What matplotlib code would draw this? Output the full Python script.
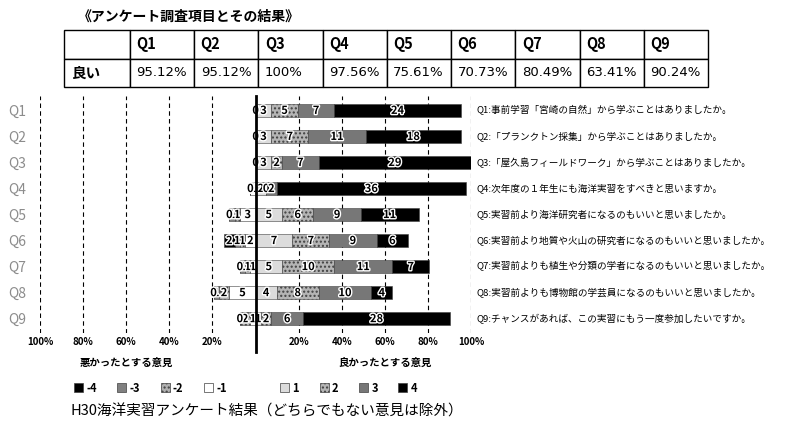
"""
H30 marine practicum survey results - diverging stacked bars
"""

import matplotlib
matplotlib.use("Agg")
import matplotlib.pyplot as plt
import matplotlib.patheffects as pe
from matplotlib.patches import Patch

plt.rcParams['font.family'] = ['Noto Sans CJK JP', 'DejaVu Sans']

# Survey data (counts, 41 respondents, neutral answers excluded from bars)
N_TOTAL = 41
questions = ['Q1', 'Q2', 'Q3', 'Q4', 'Q5', 'Q6', 'Q7', 'Q8', 'Q9']

neg1 = [0, 0, 0, 1, 3, 2, 1, 5, 1]
neg2 = [0, 0, 0, 0, 1, 1, 1, 2, 2]
neg3 = [0, 0, 0, 0, 1, 1, 1, 1, 0]
neg4 = [0, 0, 0, 0, 0, 2, 0, 0, 0]

pos1 = [3, 3, 3, 2, 5, 7, 5, 4, 1]
pos2 = [5, 7, 2, 0, 6, 7, 10, 8, 2]
pos3 = [7, 11, 7, 2, 9, 9, 11, 10, 6]
pos4 = [24, 18, 29, 36, 11, 6, 7, 4, 28]

good_rate = ['95.12%', '95.12%', '100%', '97.56%', '75.61%',
             '70.73%', '80.49%', '63.41%', '90.24%']

question_text = [
    'Q1:事前学習「宮崎の自然」から学ぶことはありましたか。',
    'Q2:「プランクトン採集」から学ぶことはありましたか。',
    'Q3:「屋久島フィールドワーク」から学ぶことはありましたか。',
    'Q4:次年度の１年生にも海洋実習をすべきと思いますか。',
    'Q5:実習前より海洋研究者になるのもいいと思いましたか。',
    'Q6:実習前より地質や火山の研究者になるのもいいと思いましたか。',
    'Q7:実習前よりも植生や分類の学者になるのもいいと思いましたか。',
    'Q8:実習前よりも博物館の学芸員になるのもいいと思いましたか。',
    'Q9:チャンスがあれば、この実習にもう一度参加したいですか。',
]

tick_values = [-100, -80, -60, -40, -20, 20, 40, 60, 80, 100]
tick_labels = ['100%', '80%', '60%', '40%', '20%', '20%', '40%', '60%', '80%', '100%']

# Styles for each answer level
NEG_STYLE = [
    ('-1', neg1, 'white', ''),
    ('-2', neg2, '#b0b0b0', '....'),
    ('-3', neg3, '#808080', ''),
    ('-4', neg4, 'black', ''),
]
POS_STYLE = [
    ('1', pos1, '#dcdcdc', ''),
    ('2', pos2, '#b4b4b4', '....'),
    ('3', pos3, '#777777', ''),
    ('4', pos4, 'black', ''),
]

fig = plt.figure(figsize=(8, 4.42), dpi=100)

# Title and summary table
fig.text(0.097, 0.962, '《アンケート調査項目とその結果》', fontsize=10,
         fontweight='bold', va='center', ha='left')

tax = fig.add_axes([0.08, 0.803, 0.805, 0.129])
tax.axis('off')
cell_text = [[''] + questions, ['良い'] + good_rate]
col_w = [66] + [64.2] * 9
tbl = tax.table(cellText=cell_text, colWidths=[w / sum(col_w) for w in col_w],
                cellLoc='left', bbox=[0, 0, 1, 1])
tbl.auto_set_font_size(False)
for (r, c), cell in tbl.get_celld().items():
    cell.set_linewidth(1.0)
    cell.PAD = 0.1
    if r == 0 or c == 0:
        cell.set_text_props(fontsize=10.5, fontweight='bold')
    else:
        cell.set_text_props(fontsize=9.5, family=['Liberation Sans Narrow', 'DejaVu Sans'])

# Main chart
ax = fig.add_axes([0.05, 0.2466, 0.539, 0.536])
y = list(range(len(questions)))
bar_h = 0.5
label_fx = [pe.withStroke(linewidth=2, foreground='white')]

left_edge = [0.0] * len(questions)
for name, vals, color, hatch in NEG_STYLE:
    widths = [-v / N_TOTAL * 100 for v in vals]
    ax.barh(y, widths, left=left_edge, height=bar_h, color=color, hatch=hatch,
            edgecolor='#404040', linewidth=0.4)
    for i, v in enumerate(vals):
        cx = left_edge[i] + widths[i] / 2
        ax.text(cx, i, str(v), ha='center', va='center', fontsize=8,
                fontweight='bold', color='black', path_effects=label_fx)
        left_edge[i] += widths[i]

right_edge = [0.0] * len(questions)
for name, vals, color, hatch in POS_STYLE:
    widths = [v / N_TOTAL * 100 for v in vals]
    ax.barh(y, widths, left=right_edge, height=bar_h, color=color, hatch=hatch,
            edgecolor='#404040', linewidth=0.4)
    for i, v in enumerate(vals):
        cx = right_edge[i] + widths[i] / 2
        ax.text(cx, i, str(v), ha='center', va='center', fontsize=8,
                fontweight='bold', color='black', path_effects=label_fx)
        right_edge[i] += widths[i]

# Grid, centre line and axes styling
for t in tick_values:
    ax.axvline(t, color='black', linestyle=(0, (4, 3)), linewidth=0.8, zorder=0)
ax.axvline(0, ymin=-0.08, ymax=1.0, color='black', linewidth=2, clip_on=False, zorder=5)

ax.set_xlim(-100, 100)
ax.set_ylim(8.55, -0.55)
ax.set_xticks(tick_values)
ax.set_xticklabels(tick_labels, fontsize=7, fontweight='bold')
ax.set_yticks(y)
ax.set_yticklabels(questions, fontsize=10, color='#8c8c8c')
ax.tick_params(axis='both', length=0)
ax.tick_params(axis='x', pad=3)
ax.tick_params(axis='y', pad=10)
for s in ax.spines.values():
    s.set_visible(False)

for i, q in enumerate(question_text):
    ax.text(102.5, i, q, ha='left', va='center', fontsize=6.9, clip_on=False)

trans = ax.get_xaxis_transform()
ax.text(-60, -0.125, '悪かったとする意見', transform=trans, ha='center',
        va='center', fontsize=7.5, fontweight='bold')
ax.text(60, -0.125, '良かったとする意見', transform=trans, ha='center',
        va='center', fontsize=7.5, fontweight='bold')

# Legend (blank slot between negative and positive)
handles = []
labels = []
for name, vals, color, hatch in reversed(NEG_STYLE):
    handles.append(Patch(facecolor=color, hatch=hatch, edgecolor='#404040', linewidth=0.5))
    labels.append(name)
handles.append(Patch(facecolor='none', edgecolor='none'))
labels.append('')
for name, vals, color, hatch in POS_STYLE:
    handles.append(Patch(facecolor=color, hatch=hatch, edgecolor='#404040', linewidth=0.5))
    labels.append(name)
fig.legend(handles, labels, ncol=9, loc='center left', bbox_to_anchor=(0.08, 0.122),
           frameon=False, handlelength=0.8, handleheight=0.8, handletextpad=0.3,
           columnspacing=1.85, prop={'size': 8, 'weight': 'bold'})

fig.text(0.333, 0.068, 'H30海洋実習アンケート結果（どちらでもない意見は除外）',
         fontsize=10.5, ha='center', va='center')

fig.savefig('out.png', dpi=100, facecolor='white')
